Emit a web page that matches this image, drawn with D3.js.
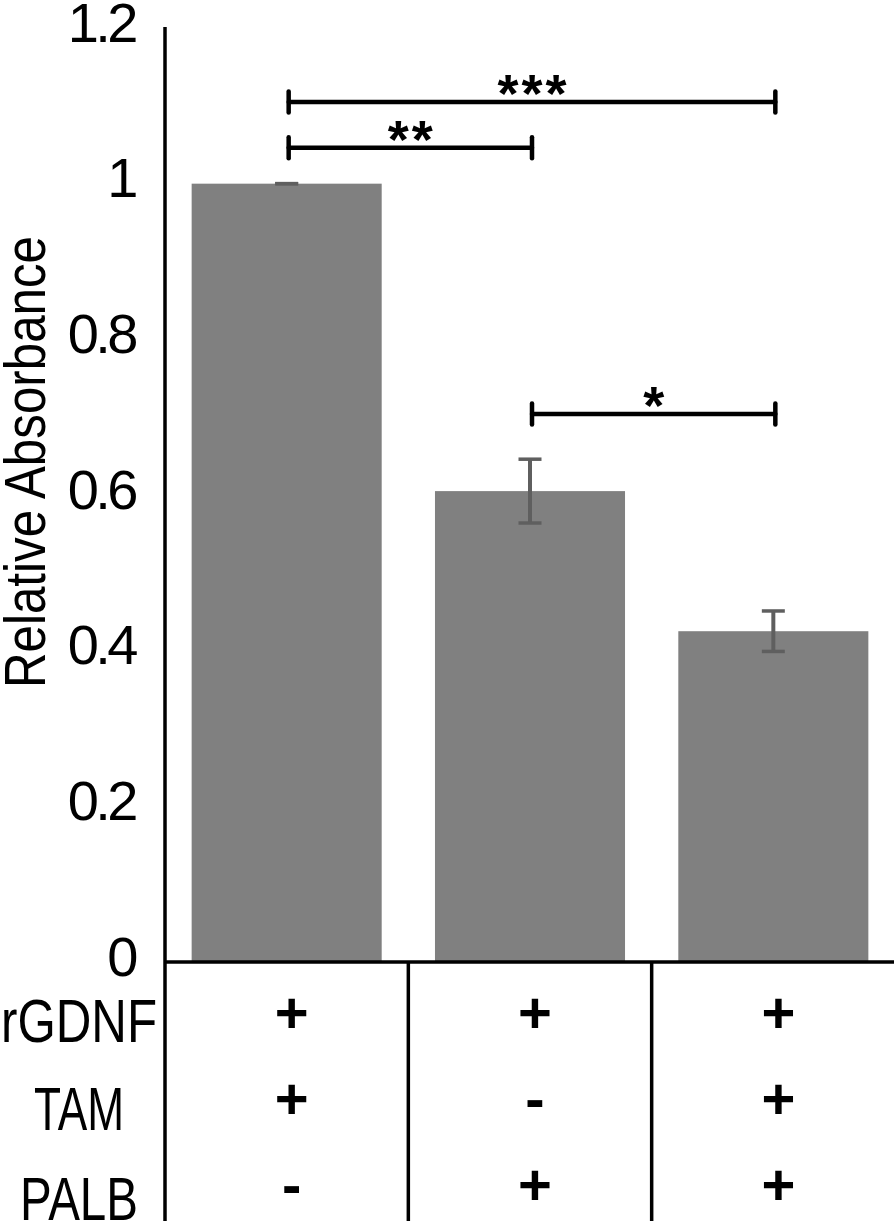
<!DOCTYPE html>
<html>
<head>
<meta charset="utf-8">
<script src="https://cdn.jsdelivr.net/npm/d3@7"></script>
<style>
  html, body { margin: 0; padding: 0; background: #fff; }
  svg { display: block; }
  text { font-family: "Liberation Sans", Arial, sans-serif; }
</style>
</head>
<body>
<svg id="chart" width="894" height="1221"></svg>
<script>
// ---- data ----
const categories = ["A", "B", "C"];
const values = [1.0, 0.605, 0.425];
const errors = [0.0, 0.041, 0.026];
const yTicks = [0, 0.2, 0.4, 0.6, 0.8, 1, 1.2];
const yTickLabels = ["0", "0.2", "0.4", "0.6", "0.8", "1", "1.2"];
const rowLabels = ["rGDNF", "TAM", "PALB"];
const rowGDNF = ["+", "+", "+"];
const rowTAM = ["+", "-", "+"];
const rowPALB = ["-", "+", "+"];
const bracketFrom = [0, 0, 1];
const bracketTo = [1, 2, 2];
const bracketLevel = [1.046, 1.105, 0.704];
const bracketLabel = ["**", "***", "*"];
const yTitle = "Relative Absorbance";

// ---- layout ----
const svg = d3.select("#chart");
const axisX = 165, baseY = 962, topY = 28, rightX = 895, bottomY = 1221;

const x = d3.scaleBand().domain(categories).range([axisX, rightX])
  .paddingInner(0.219).paddingOuter(0.1095);
const y = d3.scaleLinear().domain([0, 1.2]).range([baseY, topY]);
const cx = i => x(categories[i]) + x.bandwidth() / 2;

// bars
svg.append("g").selectAll("rect").data(values).join("rect")
  .attr("x", (d, i) => x(categories[i]))
  .attr("y", d => y(d))
  .attr("width", x.bandwidth())
  .attr("height", d => y(0) - y(d))
  .attr("fill", "#808080");

// error bars
const eb = svg.append("g").attr("stroke", "#5f5f5f").attr("fill", "none");
values.forEach((v, i) => {
  const c = cx(i), hi = y(v + errors[i]), lo = y(v - errors[i]);
  eb.append("line").attr("x1", c).attr("x2", c).attr("y1", hi).attr("y2", lo).attr("stroke-width", 4);
  eb.append("line").attr("x1", c - 11.5).attr("x2", c + 11.5).attr("y1", hi).attr("y2", hi).attr("stroke-width", 3.5);
  eb.append("line").attr("x1", c - 11.5).attr("x2", c + 11.5).attr("y1", lo).attr("y2", lo).attr("stroke-width", 3.5);
});

// y axis labels
const yAxis = svg.append("g").attr("transform", `translate(${axisX},0)`)
  .call(d3.axisLeft(y).tickValues(yTicks).tickSize(0).tickPadding(30)
    .tickFormat((d, i) => yTickLabels[i]));
yAxis.select(".domain").remove();
yAxis.selectAll("text")
  .attr("dy", null).attr("y", 13)
  .style("font-family", '"Liberation Sans", Arial, sans-serif')
  .style("font-size", "56px")
  .style("letter-spacing", "-3.5px")
  .attr("fill", "#000");

// axis lines
svg.append("line").attr("x1", axisX).attr("x2", axisX).attr("y1", topY - 1).attr("y2", bottomY)
  .attr("stroke", "#000").attr("stroke-width", 3.5);
svg.append("line").attr("x1", axisX).attr("x2", rightX).attr("y1", baseY).attr("y2", baseY)
  .attr("stroke", "#000").attr("stroke-width", 3.5);
// dividers between groups
categories.slice(1).forEach(c => {
  const dx = x(c) - x.step() * x.paddingInner() / 2;
  svg.append("line").attr("x1", dx).attr("x2", dx)
    .attr("y1", baseY).attr("y2", bottomY)
    .attr("stroke", "#000").attr("stroke-width", 3.5);
});

// y title
svg.append("text")
  .attr("transform", `translate(45, 462) rotate(-90)`)
  .attr("text-anchor", "middle")
  .attr("textLength", 452).attr("lengthAdjust", "spacingAndGlyphs")
  .style("font-size", "58px").attr("fill", "#000")
  .text(yTitle);

// row labels
const rowBase = [1042, 1130, 1220];
const rowLen = [156, 90, 118];
rowLabels.forEach((r, i) => {
  svg.append("text").attr("x", 79).attr("y", rowBase[i])
    .attr("text-anchor", "middle")
    .attr("textLength", rowLen[i]).attr("lengthAdjust", "spacingAndGlyphs")
    .style("font-size", "62px").attr("fill", "#000").text(r);
});

// +/- table
const signRows = [rowGDNF, rowTAM, rowPALB];
const signBase = [1033, 1119, 1205];
signRows.forEach((row, ri) => {
  svg.append("g").selectAll("text").data(row).join("text")
    .attr("x", (d, i) => cx(i) + 5)
    .attr("y", signBase[ri])
    .attr("text-anchor", "middle")
    .style("font-size", "58px").style("font-weight", "bold")
    .attr("fill", "#000")
    .text(d => d);
});

// significance brackets
const br = svg.append("g");
bracketLabel.forEach((lab, k) => {
  const x1 = cx(bracketFrom[k]) + 2, x2 = cx(bracketTo[k]) + 2, yy = y(bracketLevel[k]);
  const g = br.append("g").attr("stroke", "#000").attr("stroke-width", 4.5).attr("stroke-linecap", "round");
  g.append("line").attr("x1", x1).attr("x2", x2).attr("y1", yy).attr("y2", yy);
  g.append("line").attr("x1", x1).attr("x2", x1).attr("y1", yy - 10.5).attr("y2", yy + 10.5);
  g.append("line").attr("x1", x2).attr("x2", x2).attr("y1", yy - 10.5).attr("y2", yy + 10.5);
  br.append("text").attr("x", (x1 + x2) / 2 + 1.5).attr("y", yy + 10)
    .attr("text-anchor", "middle")
    .style("font-size", "54px").style("font-weight", "bold").style("letter-spacing", "3px")
    .attr("fill", "#000").text(lab);
});
</script>
</body>
</html>
